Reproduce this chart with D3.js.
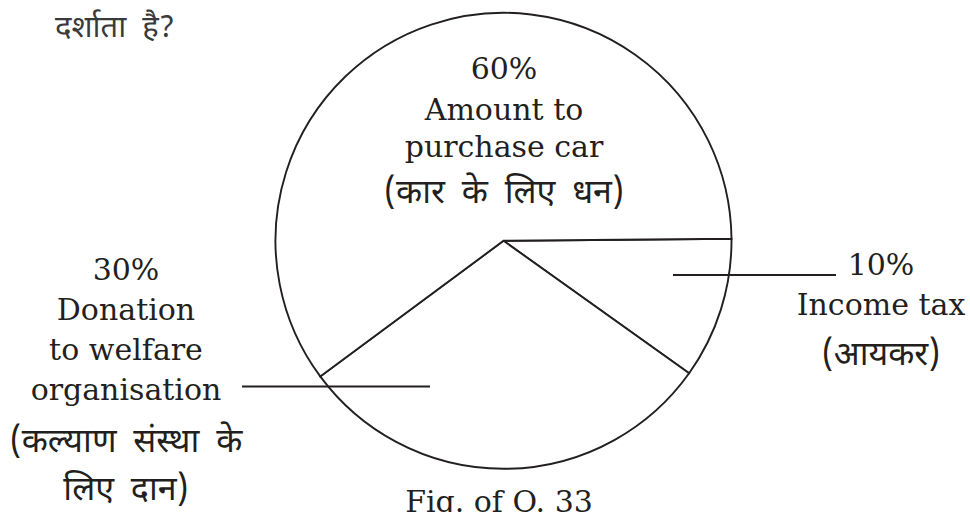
<!DOCTYPE html>
<html>
<head>
<meta charset="utf-8">
<script src="https://cdn.jsdelivr.net/npm/d3@7"></script>
<style>
  html, body { margin: 0; padding: 0; background: #fff; }
  svg { display: block; }
</style>
</head>
<body>
<svg id="chart" width="970" height="512"></svg>
<script>
// ---- data ----
const categories = ["Income tax", "Donation to welfare organisation", "Amount to purchase car"];
const values = [10, 30, 60];
const percentLabels = ["10%", "30%", "60%"];
const englishLines = [["Income tax"], ["Donation", "to welfare", "organisation"], ["Amount to", "purchase car"]];
const hindiLines = [["(आयकर)"], ["(कल्याण संस्था के", "लिए दान)"], ["(कार के लिए धन)"]];
const questionText = "दर्शाता है?";
const captionText = "Fig. of Q. 33";

// ---- layout / style ----
const W = 970, H = 512;
const cx = 503.5, cy = 240.8, R = 228;
const startDeg = 89.5;
const latinFont = "'DejaVu Serif', 'Liberation Serif', serif";
const devaFont = "'Noto Sans Devanagari', 'Noto Serif Devanagari', 'Lohit Devanagari', 'Mangal', 'Noto Sans', sans-serif";
const ink = "#231f20";
const latinSize = 30, devaSize = 34, devaWordSpacing = 8;
// label block layout: x centre and line baselines (percent, english..., hindi...)
const labelLayout = [
  { x: 881, ys: [275, 315, 365] },
  { x: 126, ys: [280, 320, 360, 399.5, 451.5, 499.5] },
  { x: 504, ys: [78.5, 120, 157, 203] }
];
const leaders = [
  { x1: 673, x2: 836, y: 275 },
  { x1: 242, x2: 430, y: 386.5 }
];

const svg = d3.select("#chart");

const pie = d3.pie().sort(null).value(d => d)
  .startAngle(startDeg * Math.PI / 180)
  .endAngle(startDeg * Math.PI / 180 + 2 * Math.PI);
const arc = d3.arc().innerRadius(0).outerRadius(R);

const g = svg.append("g").attr("transform", `translate(${cx},${cy})`);
g.selectAll("path.slice")
  .data(pie(values))
  .join("path")
  .attr("class", "slice")
  .attr("d", arc)
  .attr("fill", "#fff")
  .attr("stroke", ink)
  .attr("stroke-width", 1.9)
  .attr("stroke-linejoin", "miter");

// leader lines
svg.selectAll("line.leader")
  .data(leaders)
  .join("line")
  .attr("class", "leader")
  .attr("x1", d => d.x1).attr("x2", d => d.x2)
  .attr("y1", d => d.y).attr("y2", d => d.y)
  .attr("stroke", ink)
  .attr("stroke-width", 1.9);

// labels
categories.forEach((c, i) => {
  const L = labelLayout[i];
  const lines = [];
  lines.push({ t: percentLabels[i], f: latinFont });
  englishLines[i].forEach(t => lines.push({ t, f: latinFont }));
  hindiLines[i].forEach(t => lines.push({ t, f: devaFont, deva: true }));
  const txt = svg.append("text")
    .attr("text-anchor", "middle")
    .attr("fill", ink);
  lines.forEach((ln, j) => {
    txt.append("tspan")
      .attr("x", L.x)
      .attr("y", L.ys[j])
      .attr("font-family", ln.f)
      .attr("font-size", ln.deva ? devaSize : latinSize)
      .attr("word-spacing", ln.deva ? devaWordSpacing : 0)
      .text(ln.t);
  });
});

// top-left question fragment
svg.append("text")
  .attr("x", 55).attr("y", 36.5)
  .attr("font-family", devaFont)
  .attr("font-size", 31)
  .attr("word-spacing", 8)
  .attr("fill", "#3a3a3a")
  .text(questionText);

// caption (partly cut by the bottom edge, as in the reference)
svg.append("text")
  .attr("x", 499).attr("y", 512)
  .attr("text-anchor", "middle")
  .attr("font-family", latinFont)
  .attr("font-size", latinSize)
  .attr("fill", ink)
  .text(captionText);
</script>
</body>
</html>
